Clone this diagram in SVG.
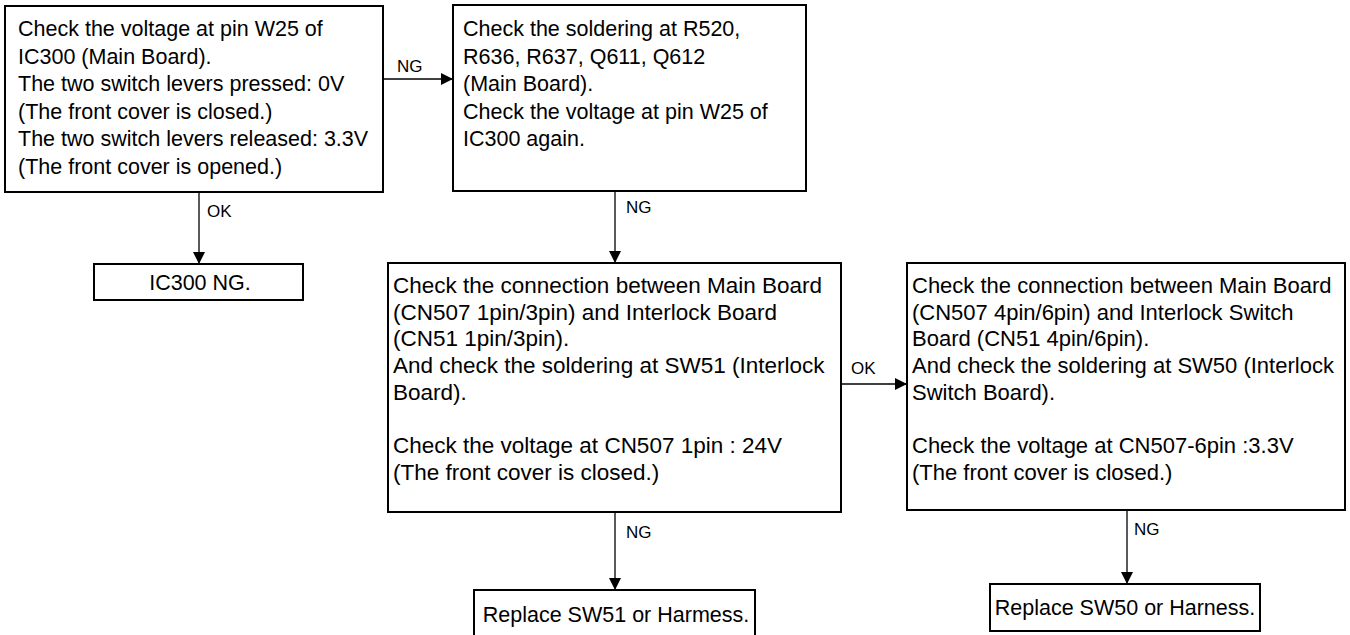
<svg xmlns="http://www.w3.org/2000/svg" width="1350" height="635" viewBox="0 0 1350 635">
<style>
.box{fill:#fff;stroke:#000;stroke-width:2}
.t{font-family:"Liberation Sans",Arial,sans-serif;font-size:21.5px;fill:#000}
.t2{font-family:"Liberation Sans",Arial,sans-serif;font-size:22px;fill:#000}
.t3{font-family:"Liberation Sans",Arial,sans-serif;font-size:22.5px;fill:#000}
.lbl{font-family:"Liberation Sans",Arial,sans-serif;font-size:17px;fill:#000}
.c{fill:none;stroke:#000;stroke-width:1.3}
</style>
<defs>
<marker id="ah" viewBox="0 0 12 12" refX="12" refY="6" markerWidth="12" markerHeight="12" markerUnits="userSpaceOnUse" orient="auto">
<path d="M0,0 L12,6 L0,12 Z" fill="#000"/>
</marker>
</defs>
<rect width="1350" height="635" fill="#fff"/>
<g id="connectors">
<line class="c" x1="384" y1="79" x2="453" y2="79" marker-end="url(#ah)"/>
<text class="lbl" x="397" y="72">NG</text>
<line class="c" x1="199" y1="193" x2="199" y2="264" marker-end="url(#ah)"/>
<text class="lbl" x="207" y="217">OK</text>
<line class="c" x1="615" y1="192" x2="615" y2="263" marker-end="url(#ah)"/>
<text class="lbl" x="626" y="213">NG</text>
<line class="c" x1="842" y1="384" x2="907" y2="384" marker-end="url(#ah)"/>
<text class="lbl" x="851" y="374">OK</text>
<line class="c" x1="615" y1="513" x2="615" y2="590" marker-end="url(#ah)"/>
<text class="lbl" x="626" y="538">NG</text>
<line class="c" x1="1127" y1="511" x2="1127" y2="584" marker-end="url(#ah)"/>
<text class="lbl" x="1134" y="535">NG</text>
</g>
<g id="n1">
<rect class="box" x="5" y="6" width="378" height="186"/>
<text class="t" x="18" y="36">Check the voltage at pin W25 of</text>
<text class="t" x="18" y="63.5">IC300 (Main Board).</text>
<text class="t" x="18" y="91">The two switch levers pressed: 0V</text>
<text class="t" x="18" y="118.5">(The front cover is closed.)</text>
<text class="t" x="18" y="146">The two switch levers released: 3.3V</text>
<text class="t" x="18" y="173.5">(The front cover is opened.)</text>
</g>
<g id="n2">
<rect class="box" x="453" y="5" width="353" height="186"/>
<text class="t" x="463" y="36">Check the soldering at R520,</text>
<text class="t" x="463" y="63.5">R636, R637, Q611, Q612</text>
<text class="t" x="463" y="91">(Main Board).</text>
<text class="t" x="463" y="118.5">Check the voltage at pin W25 of</text>
<text class="t" x="463" y="146">IC300 again.</text>
</g>
<g id="n3">
<rect class="box" x="94" y="264" width="209" height="36"/>
<text class="t" x="200" y="290" text-anchor="middle">IC300 NG.</text>
</g>
<g id="n4">
<rect class="box" x="388" y="263" width="453" height="249"/>
<text class="t3" x="393" y="293">Check the connection between Main Board</text>
<text class="t3" x="393" y="319.7">(CN507 1pin/3pin) and Interlock Board</text>
<text class="t3" x="393" y="346.4">(CN51 1pin/3pin).</text>
<text class="t3" x="393" y="373.1">And check the soldering at SW51 (Interlock</text>
<text class="t3" x="393" y="399.8">Board).</text>
<text class="t3" x="393" y="453.2">Check the voltage at CN507 1pin : 24V</text>
<text class="t3" x="393" y="479.9">(The front cover is closed.)</text>
</g>
<g id="n5">
<rect class="box" x="907" y="263" width="438" height="247"/>
<text class="t2" x="912" y="293">Check the connection between Main Board</text>
<text class="t2" x="912" y="319.7">(CN507 4pin/6pin) and Interlock Switch</text>
<text class="t2" x="912" y="346.4">Board (CN51 4pin/6pin).</text>
<text class="t2" x="912" y="373.1">And check the soldering at SW50 (Interlock</text>
<text class="t2" x="912" y="399.8">Switch Board).</text>
<text class="t2" x="912" y="453.2">Check the voltage at CN507-6pin :3.3V</text>
<text class="t2" x="912" y="479.9">(The front cover is closed.)</text>
</g>
<g id="n6">
<rect class="box" x="474" y="590" width="281" height="60"/>
<text class="t" x="616" y="622" text-anchor="middle">Replace SW51 or Harmess.</text>
</g>
<g id="n7">
<rect class="box" x="990" y="584" width="270" height="47"/>
<text class="t" x="1125" y="615" text-anchor="middle">Replace SW50 or Harness.</text>
</g>
</svg>
